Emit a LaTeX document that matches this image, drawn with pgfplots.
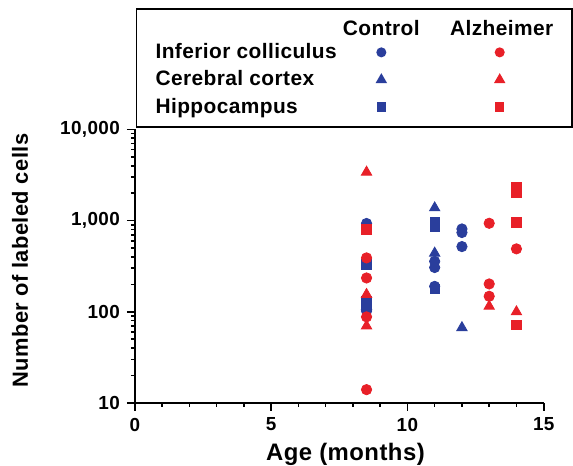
\documentclass[border=0pt]{standalone}
\usepackage{fontspec}
\setmainfont{Liberation Sans}[LetterSpace=2]
\usepackage{pgfplots}
\pgfplotsset{compat=1.18}
\definecolor{ctrl}{RGB}{42,62,156}
\definecolor{alz}{RGB}{232,32,40}
% legend row: control mark at 21.5pt, Alzheimer mark at 81pt
\pgfplotsset{
  legrow/.style 2 args={legend image code/.code={%
    \path[draw=none,fill=none] (0pt,-6.875pt) rectangle (106pt,6.875pt);
    \draw[ctrl, fill=ctrl, only marks, mark=#1, mark size=#2] plot coordinates {(21.5pt,0pt)};
    \draw[alz, fill=alz, only marks, mark=#1, mark size=#2] plot coordinates {(81pt,0pt)};}},
}
\begin{document}
\begin{tikzpicture}
\begin{axis}[
  scale only axis,
  width=205.5pt, height=137.5pt,
  ymode=log,
  xmin=0, xmax=15, ymin=10, ymax=10000,
  xtick={0,5,10,15}, minor x tick num=4,
  ytick={10,100,1000,10000},
  yticklabels={10,100,{1,000},{10,000}},
  xticklabels={0,5,10,15},
  axis lines*=left,
  axis line style={-, line width=1pt},
  every tick/.style={black, line width=0.8pt},
  tick align=outside,
  major tick length=4pt, minor tick length=2pt,
  tick label style={font=\fontsize{9.5}{11}\selectfont\bfseries},
  xlabel={Age (months)},
  ylabel={Number of labeled cells},
  every axis x label/.style={at={(axis description cs:0.515,-0.1455)}, anchor=north,
    inner sep=0pt, font=\fontsize{12}{14}\selectfont\bfseries},
  every axis y label/.style={at={(axis description cs:-0.3017,0.52)}, rotate=90, anchor=north,
    inner sep=0pt, font=\fontsize{11}{13}\selectfont\bfseries},
  clip=false,
  legend columns=1,
  legend plot pos=right,
  legend cell align=left,
  legend style={at={(axis description cs:0.0024,1.007)}, anchor=south west,
    draw=black, line width=0.8pt, font=\fontsize{10.5}{12}\selectfont\bfseries,
    column sep=0pt, row sep=0pt, inner xsep=9.5pt, inner ysep=3pt,
    nodes={inner sep=0pt}},
]
% legend
\addlegendimage{legend image code/.code={%
    \path[draw=none,fill=none] (0pt,-4pt) rectangle (106pt,6pt);
    \node[anchor=center, inner sep=0pt] at (21.5pt,-1.5pt) {Control};
    \node[anchor=center, inner sep=0pt] at (82pt,-1.5pt) {Alzheimer};}}
\addlegendentry{\makebox[92pt][l]{}}
\addlegendimage{legrow={*}{2.1pt}}
\addlegendentry{\makebox[92pt][l]{Inferior colliculus}}
\addlegendimage{legrow={triangle*}{2.5pt}}
\addlegendentry{\makebox[92pt][l]{Cerebral cortex}}
\addlegendimage{legrow={square*}{1.9pt}}
\addlegendentry{\makebox[92pt][l]{Hippocampus}}

% Control, inferior colliculus
\addplot[forget plot, only marks, mark=*, ctrl, mark size=2.6pt] coordinates {
 (8.5,930) (8.5,102) (11,357) (11,306) (11,190) (12,810) (12,740) (12,519)};
% Control, cerebral cortex
\addplot[forget plot, only marks, mark=triangle*, ctrl, mark size=3pt] coordinates {
 (8.5,115) (11,1380) (11,440) (12,67)};
% Control, hippocampus
\addplot[forget plot, only marks, mark=square*, ctrl, mark size=2.4pt] coordinates {
 (8.5,330) (8.5,130) (8.5,118) (11,950) (11,850) (11,178)};
% Alzheimer, inferior colliculus
\addplot[forget plot, only marks, mark=*, alz, mark size=2.6pt] coordinates {
 (8.5,390) (8.5,235) (8.5,88) (8.5,14) (13,935) (13,202) (13,148) (14,490)};
% Alzheimer, cerebral cortex
\addplot[forget plot, only marks, mark=triangle*, alz, mark size=3pt] coordinates {
 (8.5,3400) (8.5,155) (8.5,70) (13,115) (14,100)};
% Alzheimer, hippocampus
\addplot[forget plot, only marks, mark=square*, alz, mark size=2.4pt] coordinates {
 (8.5,800) (14,2350) (14,2050) (14,960) (14,72)};
\end{axis}
\path ([xshift=-6pt,yshift=4pt]current bounding box.north west);
\end{tikzpicture}
\end{document}
